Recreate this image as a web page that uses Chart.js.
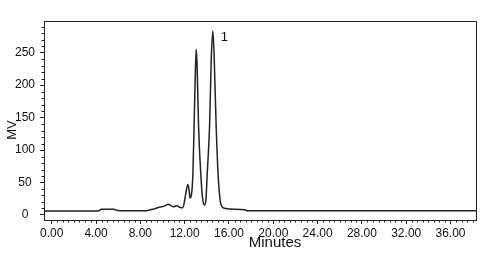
<!DOCTYPE html>
<html>
<head>
<meta charset="utf-8">
<script src="https://cdn.jsdelivr.net/npm/chart.js@4"></script>
<style>
  html, body { margin: 0; padding: 0; background: #fff; }
  #wrap { width: 496px; height: 255px; }
</style>
</head>
<body>
<div id="wrap"><canvas id="chrom"></canvas></div>
<script>
// retention time (min) and detector signal (mV)
const minutes = [-0.7, 4.2, 4.5, 5.6, 5.9, 8.4, 9.0, 9.4, 9.9, 10.2, 10.5, 10.8, 11.0, 11.3, 11.6, 11.8,
  11.95, 12.1, 12.29, 12.4, 12.49, 12.6, 12.74, 12.85, 12.95, 13.04, 13.12, 13.25, 13.46, 13.6, 13.79,
  13.92, 14.03, 14.25, 14.4, 14.54, 14.65, 14.84, 15.02, 15.29, 15.6, 16.1, 17.4, 17.6, 38.3];
const signal = [6.3, 6.3, 8.8, 8.8, 7.0, 6.5, 8.5, 10.3, 12.8, 14, 16.5, 14, 12.8, 14.3, 11.5, 11.2,
  18, 33, 47, 38, 26, 30, 61.5, 138, 210, 255, 230, 138, 61.5, 28, 15.4,
  24, 61.5, 138, 240, 283, 250, 138, 61.5, 15.4, 10.3, 9.2, 8.2, 6.6, 6.6];

const xTicks = [0, 4, 8, 12, 16, 20, 24, 28, 32, 36];
const yTicks = [0, 50, 100, 150, 200, 250];
const peakLabels = [{ t: 15.58, v: 274, text: '1' }];

const ink = '#222';
const textInk = '#111';
const fontFamily = "'Liberation Sans', Arial, sans-serif";

const points = minutes.map((t, i) => ({ x: t, y: signal[i] }));

const frame = {
  id: 'frame',
  afterDraw(chart) {
    const { ctx, chartArea: a, scales } = chart;
    ctx.save();
    ctx.strokeStyle = ink;
    ctx.lineWidth = 1;
    // top and right edges of the box
    ctx.beginPath();
    ctx.moveTo(Math.round(a.left) + 0.5, Math.round(a.top) + 0.5);
    ctx.lineTo(Math.round(a.right) + 0.5, Math.round(a.top) + 0.5);
    ctx.lineTo(Math.round(a.right) + 0.5, Math.round(a.bottom) + 0.5);
    ctx.stroke();

    // minor ticks
    ctx.beginPath();
    for (let v = 0; v <= 38; v += 0.5) {
      if (v % 4 === 0) continue;
      const px = Math.round(scales.x.getPixelForValue(v)) + 0.5;
      ctx.moveTo(px, a.bottom);
      ctx.lineTo(px, a.bottom + 2.5);
    }
    for (let v = 0; v <= 290; v += 10) {
      if (v % 50 === 0) continue;
      const py = Math.round(scales.y.getPixelForValue(v)) + 0.5;
      ctx.moveTo(a.left, py);
      ctx.lineTo(a.left - 2.5, py);
    }
    ctx.stroke();

    // peak labels
    ctx.fillStyle = textInk;
    ctx.font = '13px ' + fontFamily;
    ctx.textAlign = 'center';
    ctx.textBaseline = 'middle';
    peakLabels.forEach(p => {
      ctx.fillText(p.text, scales.x.getPixelForValue(p.t), scales.y.getPixelForValue(p.v));
    });

    // axis titles
    ctx.font = '15px ' + fontFamily;
    ctx.fillText('Minutes', 275, 243);
    ctx.translate(12.5, 130);
    ctx.rotate(-Math.PI / 2);
    ctx.font = '13px ' + fontFamily;
    ctx.fillText('MV', 0, 0);
    ctx.restore();
  }
};

new Chart(document.getElementById('chrom'), {
  type: 'line',
  data: {
    datasets: [{
      data: points,
      borderColor: '#222',
      borderWidth: 1.5,
      pointRadius: 0,
      fill: false,
      cubicInterpolationMode: 'monotone'
    }]
  },
  options: {
    responsive: true,
    maintainAspectRatio: false,
    animation: false,
    events: [],
    layout: { padding: { top: 21, right: 20, left: 0, bottom: 0 } },
    plugins: {
      legend: { display: false },
      tooltip: { enabled: false }
    },
    scales: {
      x: {
        type: 'linear',
        min: -0.7,
        max: 38.3,
        afterFit: s => { s.height = 35; },
        afterBuildTicks: s => { s.ticks = xTicks.map(v => ({ value: v })); },
        grid: { drawOnChartArea: false, drawTicks: true, tickLength: 4, color: ink },
        border: { display: true, color: ink, width: 1 },
        ticks: {
          padding: 2,
          color: textInk,
          font: { family: fontFamily, size: 12 },
          maxRotation: 0,
          callback: v => Number(v).toFixed(2)
        }
      },
      y: {
        min: -7.7,
        max: 298.5,
        afterFit: s => { s.width = 44; },
        afterBuildTicks: s => { s.ticks = yTicks.map(v => ({ value: v })); },
        grid: { drawOnChartArea: false, drawTicks: true, tickLength: 4, color: ink },
        border: { display: true, color: ink, width: 1 },
        ticks: {
          padding: 5,
          crossAlign: 'center',
          color: textInk,
          font: { family: fontFamily, size: 12 }
        }
      }
    }
  },
  plugins: [frame]
});
</script>
</body>
</html>
